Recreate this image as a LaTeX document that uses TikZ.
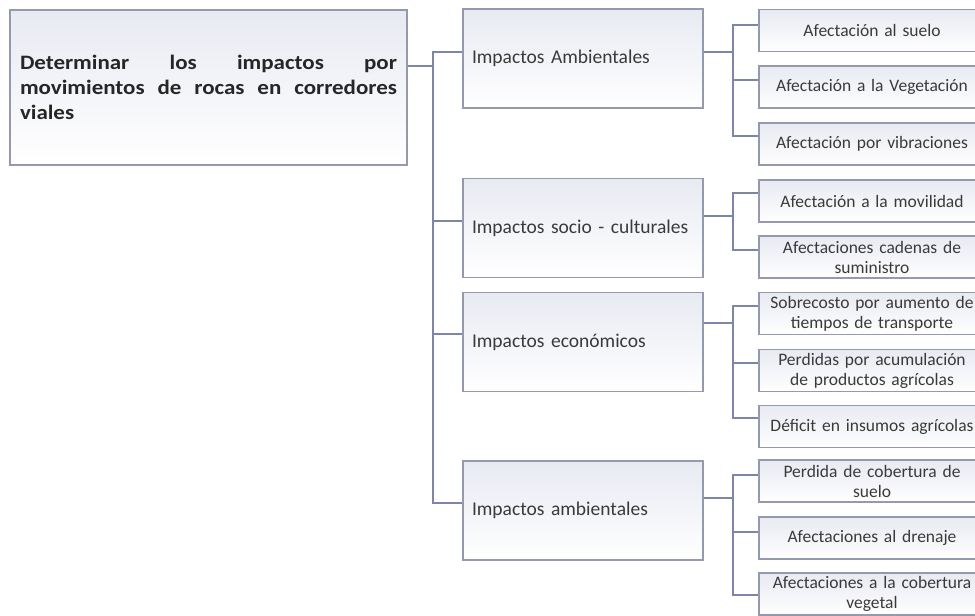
\documentclass[tikz,border=0pt]{standalone}
\usepackage{fontspec}
\setmainfont{Carlito}
\newfontfamily\headfont[FakeStretch=1.12]{Carlito}
\definecolor{boxline}{HTML}{9499AE}
\definecolor{boxtop}{HTML}{E8EAF2}
\definecolor{connline}{HTML}{7D86A6}
\definecolor{ink}{HTML}{3A3A3A}
\definecolor{rootink}{HTML}{262626}
\tikzset{
  box/.style={draw=boxline, line width=1.1pt, top color=boxtop, bottom color=white, inner ysep=0pt},
  rootbox/.style={box, text width=377pt, inner xsep=10pt, minimum height=155pt, align=justify,
    font=\headfont\bfseries\fontsize{20.5}{25}\selectfont, text=rootink},
  catbox/.style={box, text width=222pt, inner xsep=9pt, minimum height=99pt, align=left,
    font=\fontsize{19.5}{23}\selectfont, text=ink},
  itembox/.style={box, text width=218pt, inner xsep=4pt, minimum height=42pt, align=center,
    font=\fontsize{17.5}{20}\selectfont, text=ink},
  conn/.style={draw=connline, line width=1.5pt},
}
\begin{document}
\begin{tikzpicture}[x=1pt,y=-1pt]
\useasboundingbox (0,0) rectangle (975,616);
\clip (0,0) rectangle (975,616);

% root
\node[rootbox] (root) at (208.5,87.5) {\hyphenpenalty=10000 Determinar los impactos por\linebreak movimientos de rocas en corredores\linebreak viales};

% categories
\node[catbox] (a1) at (583,58.5) {Impactos Ambientales};
\node[catbox] (a2) at (583,228) {Impactos socio - culturales};
\node[catbox] (a3) at (583,342) {Impactos económicos};
\node[catbox] (a4) at (583,510.5) {Impactos ambientales};

% items
\node[itembox] (b1) at (872,30.5) {Afectación al suelo};
\node[itembox] (b2) at (872,87) {Afectación a la Vegetación};
\node[itembox] (b3) at (872,144) {Afectación por vibraciones};
\node[itembox] (c1) at (872,201) {Afectación a la movilidad};
\node[itembox] (c2) at (872,257) {Afectaciones cadenas de\\suministro};
\node[itembox] (d1) at (872,313.5) {Sobrecosto por aumento de\\tiempos de transporte};
\node[itembox] (d2) at (872,370.5) {Perdidas por acumulación\\de productos agrícolas};
\node[itembox] (d3) at (872,426.5) {Déficit en insumos agrícolas};
\node[itembox] (e1) at (872,481) {Perdida de cobertura de\\suelo};
\node[itembox] (e2) at (872,538) {Afectaciones al drenaje};
\node[itembox] (e3) at (872,594) {Afectaciones a la cobertura\\vegetal};

% vertical rails
\coordinate (trunk) at (433,0);
\coordinate (brk) at (733,0);

% attachment points
\coordinate (r0) at ([yshift=21.5pt]root.east);
\coordinate (a1i) at ([yshift=6.5pt]a1.west);
\coordinate (a2i) at ([yshift=7pt]a2.west);
\coordinate (a3i) at ([yshift=8pt]a3.west);
\coordinate (a4i) at ([yshift=7.5pt]a4.west);
\coordinate (a1o) at ([yshift=6.5pt]a1.east);
\coordinate (a2o) at ([yshift=12pt]a2.east);
\coordinate (a3o) at ([yshift=19pt]a3.east);
\coordinate (a4o) at ([yshift=12.5pt]a4.east);
\coordinate (b1i) at ([yshift=5.5pt]b1.west);
\coordinate (b2i) at ([yshift=7pt]b2.west);
\coordinate (b3i) at ([yshift=8pt]b3.west);
\coordinate (c1i) at ([yshift=8pt]c1.west);
\coordinate (c2i) at ([yshift=7pt]c2.west);
\coordinate (d1i) at ([yshift=7.5pt]d1.west);
\coordinate (d2i) at ([yshift=7.5pt]d2.west);
\coordinate (d3i) at ([yshift=8.5pt]d3.west);
\coordinate (e1i) at ([yshift=6pt]e1.west);
\coordinate (e2i) at ([yshift=6pt]e2.west);
\coordinate (e3i) at ([yshift=-1pt]e3.west);

% root to categories
\draw[conn] (r0) -- (r0 -| trunk);
\draw[conn] (a1i) -- (a1i -| trunk) -- (a4i -| trunk) -- (a4i);
\draw[conn] (a2i) -- (a2i -| trunk);
\draw[conn] (a3i) -- (a3i -| trunk);

% categories to items
\draw[conn] (a1o) -- (a1o -| brk);
\draw[conn] (b1i) -- (b1i -| brk) -- (b3i -| brk) -- (b3i);
\draw[conn] (b2i) -- (b2i -| brk);

\draw[conn] (a2o) -- (a2o -| brk);
\draw[conn] (c1i) -- (c1i -| brk) -- (c2i -| brk) -- (c2i);

\draw[conn] (a3o) -- (a3o -| brk);
\draw[conn] (d1i) -- (d1i -| brk) -- (d3i -| brk) -- (d3i);
\draw[conn] (d2i) -- (d2i -| brk);

\draw[conn] (a4o) -- (a4o -| brk);
\draw[conn] (e1i) -- (e1i -| brk) -- (e3i -| brk) -- (e3i);
\draw[conn] (e2i) -- (e2i -| brk);
\end{tikzpicture}
\end{document}
